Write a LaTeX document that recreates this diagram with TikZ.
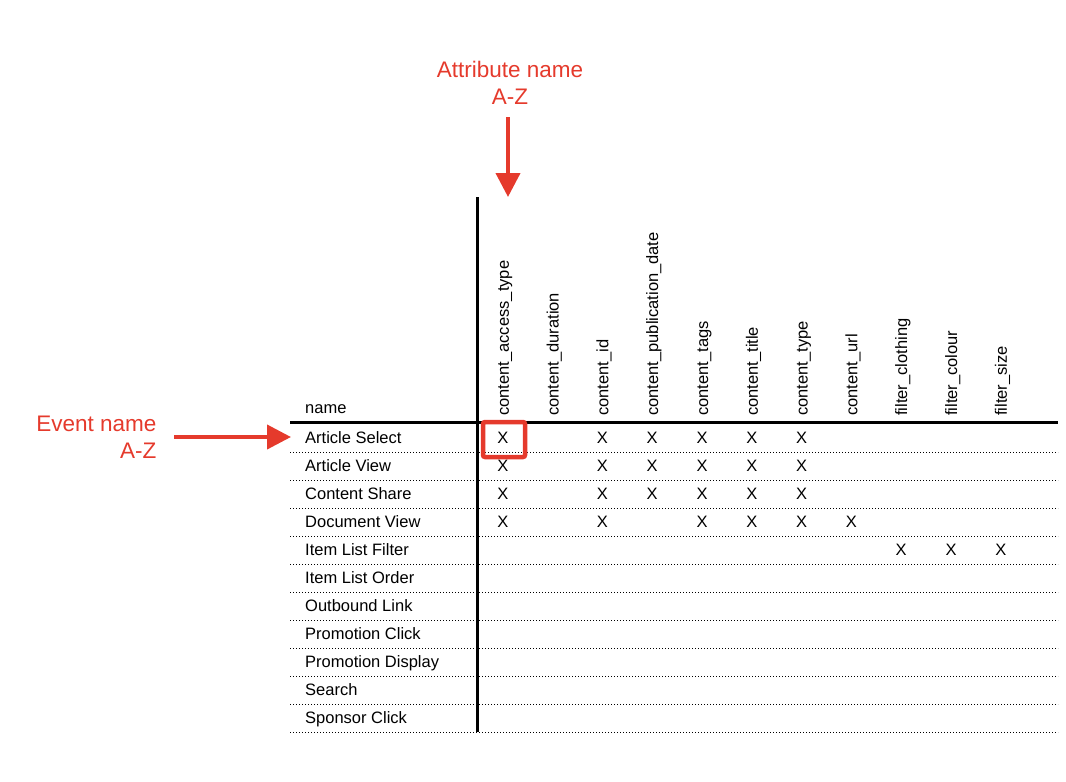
\documentclass[tikz,border=0pt]{standalone}
\usepackage{fontspec}
\setmainfont{Liberation Sans}
\usetikzlibrary{arrows.meta}
\definecolor{note}{HTML}{E53A2C}
\begin{document}
\begin{tikzpicture}[x=1pt,y=-1pt,
    cell/.style={font=\fontsize{16.5}{16.5}\selectfont},
    event/.style={cell, anchor=base west, inner sep=0pt},
    attr/.style={cell, rotate=90, anchor=base west, inner sep=0pt},
    rule/.style={dotted, line width=1pt},
    call/.style={note, font=\fontsize{22.5}{27}\selectfont, align=center},
    pointer/.style={note, line width=4pt, -{Triangle[length=24pt,width=24pt]}}]
    \useasboundingbox (0,0) rectangle (1066,782);

    % Attribute headers
    \foreach \a [count=\i] in {content\_access\_type, content\_duration, content\_id,
        content\_publication\_date, content\_tags, content\_title, content\_type,
        content\_url, filter\_clothing, filter\_colour, filter\_size}
        \node[attr] (a\i) at ({459+49.8*\i},416) {\a};
    \node[event] (hd) at (305,413) {name};

    % Event rows
    \foreach \e [count=\j] in {Article Select, Article View, Content Share, Document View,
        Item List Filter, Item List Order, Outbound Link, Promotion Click,
        Promotion Display, Search, Sponsor Click} {
        \node[event] (e\j) at (305,{415+28*\j}) {\e};
        \draw[rule] (290,{424+28*\j}) -- (1058,{424+28*\j});
    }

    % Marks
    \foreach \j/\cols in {1/{1,3,4,5,6,7}, 2/{1,3,4,5,6,7}, 3/{1,3,4,5,6,7},
        4/{1,3,5,6,7,8}, 5/{9,10,11}}
        \foreach \i in \cols
            \node[cell, anchor=base] (x\j-\i) at ({453+49.8*\i},{415+28*\j}) {X};

    % Axes
    \draw[line width=3pt] (290,422) -- (1058,422);
    \draw[line width=3pt] (477,197) -- (477,732);

    % Callouts
    \node[call] (attrnote) at (510,83) {Attribute name\\A-Z};
    \node[call, anchor=east, align=right] (evnote) at (160,437) {Event name\\A-Z};
    \coordinate (p1) at (508,117);
    \coordinate (p1e) at (508,197);
    \coordinate (p2) at (174,437);
    \coordinate (p2e) at (291,437);
    \draw[pointer] (p1) -- (p1e);
    \draw[pointer] (p2) -- (p2e);
    \draw[note, line width=4.5pt, rounded corners=2pt] (483,422) rectangle (525,457);
\end{tikzpicture}
\end{document}
